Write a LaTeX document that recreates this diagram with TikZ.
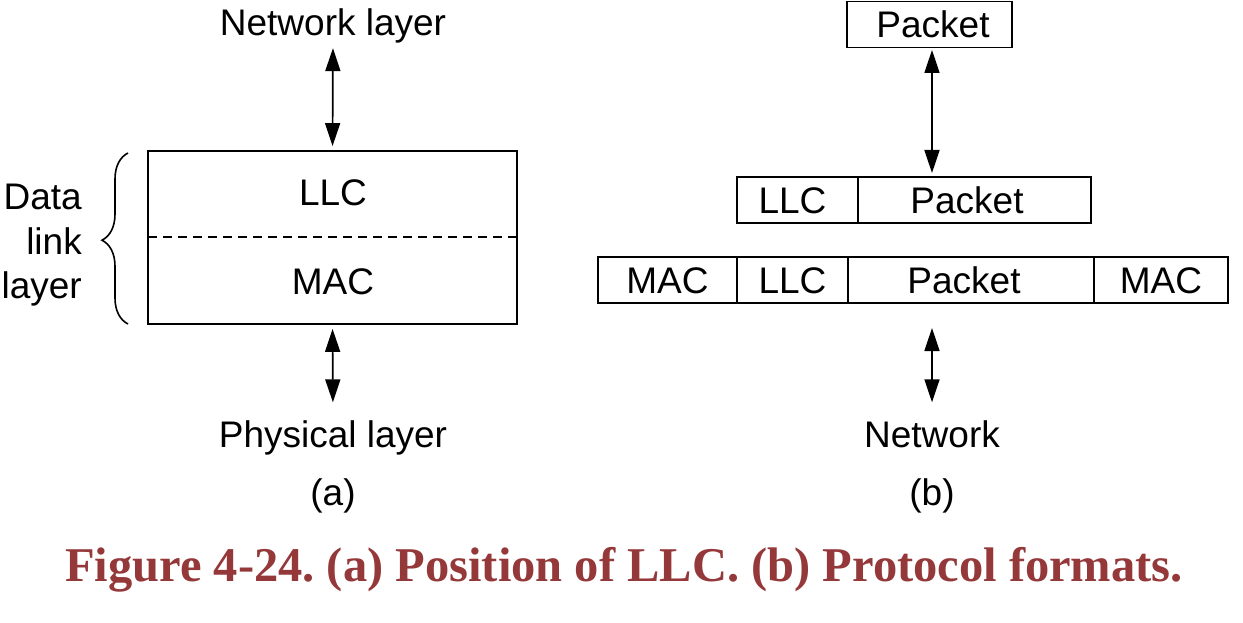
\documentclass[tikz,border=0pt]{standalone}
\usepackage{fontspec}
\setmainfont{Liberation Sans}
\newfontfamily\capfont{Liberation Serif}
\usetikzlibrary{arrows.meta,decorations.pathreplacing}
\definecolor{capred}{RGB}{148,56,58}
\begin{document}
\frenchspacing
\begin{tikzpicture}[x=1pt,y=-1pt,
  txt/.style={font=\fontsize{37}{44}\selectfont, inner sep=0pt, text height=26.5pt, text depth=0pt},
  fld/.style={txt, draw, line width=1.8pt, minimum height=46pt},
  dbl/.style={line width=1.7pt, {Triangle[length=23pt,width=15pt]}-{Triangle[length=23pt,width=15pt]}},
  captxt/.style={font=\capfont\bfseries\fontsize{48.5}{52}\selectfont, text=capred, inner sep=0pt}]
\useasboundingbox (0,0) rectangle (1243,623);

% ---------- (a) ----------
\node[txt, anchor=base] (nl) at (333,36) {Network layer};
\node[draw, line width=1.8pt, minimum width=369pt, minimum height=173pt, inner sep=0pt] (dl) at (332.5,237.5) {};
\coordinate (dashL) at (148,237);
\coordinate (dashR) at (517,237);
\draw[line width=1.6pt, dash pattern=on 9pt off 6pt] (dashL) -- (dashR);
\node[txt, anchor=base] (llc) at (333,205) {LLC};
\node[txt, anchor=base] (mac) at (333,294) {MAC};
\node[txt, anchor=base] (phy) at (333,447) {Physical layer};
\node[txt, anchor=base] (la) at (333,505) {(a)};
\draw[dbl, shorten <=12pt, shorten >=4pt] (nl.south) -- (dl.north);
\draw[dbl, shorten <=4pt, shorten >=18pt] (dl.south) -- (phy.north);

\node[txt, anchor=base east] (d1) at (82,210) {Data};
\node[txt, anchor=base east] (d2) at (82,254) {link};
\node[txt, anchor=base east] (d3) at (82,298) {layer};
\coordinate (brB) at (128,324);
\coordinate (brT) at (128,153);
\draw[line width=1.6pt, decorate, decoration={brace, amplitude=26pt, aspect=0.49}] (brB) -- (brT);

% ---------- (b) ----------
\node[fld, minimum width=165pt] (ptop) at (929.5,24.5) {\hspace*{7pt}Packet};

\node[fld, minimum width=121pt] (r2l) at (797.5,200) {\hspace*{-10pt}LLC};
\node[fld, minimum width=233pt] (r2p) at (974.5,200) {\hspace*{-15pt}Packet};

\node[fld, minimum width=139pt] (r3m1) at (667.5,280) {MAC};
\node[fld, minimum width=111pt] (r3l) at (792.5,280) {LLC};
\node[fld, minimum width=246pt] (r3p) at (971,280) {\hspace*{-14pt}Packet};
\node[fld, minimum width=134pt] (r3m2) at (1161,280) {MAC};

\node[txt, anchor=base] (net) at (932,447) {Network};
\node[txt, anchor=base] (lb) at (932,505) {(b)};

\coordinate (aT) at (932,47);
\coordinate (aB) at (932,177);
\draw[dbl, shorten <=3pt, shorten >=4pt] (aT) -- (aB);
\coordinate (bT) at (932,303);
\draw[dbl, shorten <=25pt, shorten >=18pt] (bT) -- (net.north);

% ---------- caption ----------
\node[captxt, anchor=base] (caption) at (624,581) {Figure 4-24. (a) Position of LLC. (b) Protocol formats.};
\end{tikzpicture}
\end{document}
